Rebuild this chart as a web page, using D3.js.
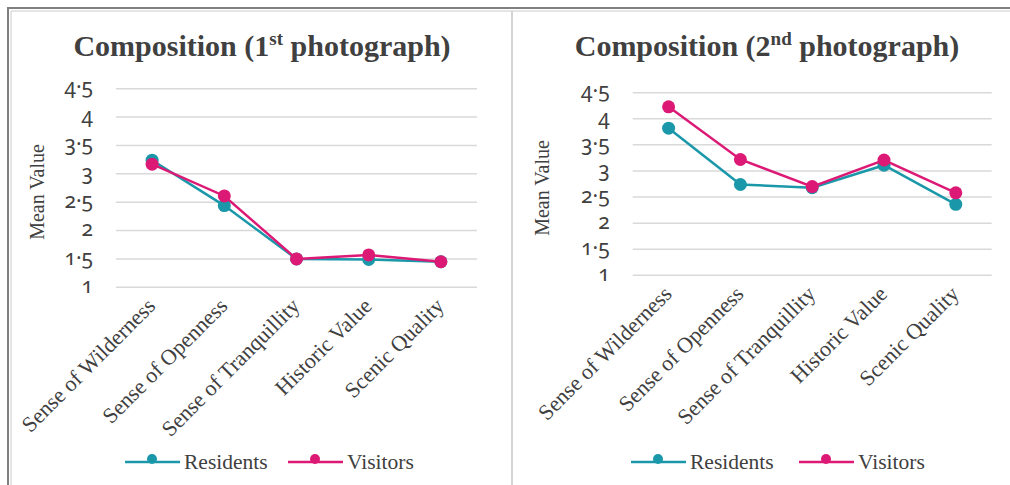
<!DOCTYPE html>
<html>
<head>
<meta charset="utf-8">
<script src="https://cdn.jsdelivr.net/npm/d3@7"></script>
<style>
  html, body { margin: 0; padding: 0; background: #ffffff; }
  svg { display: block; }
  .tick-num { font-family: "Noto Sans", sans-serif; font-feature-settings: "onum" 1; font-variant-numeric: oldstyle-nums; }
</style>
</head>
<body>
<svg id="chart" width="1010" height="485"></svg>
<script>
// Category labels shared by both panels
const categories = ["Sense of Wilderness", "Sense of Openness", "Sense of Tranquillity", "Historic Value", "Scenic Quality"];

// Mean ratings, first photograph
const residents1 = [3.24, 2.44, 1.50, 1.49, 1.45];
const visitors1  = [3.17, 2.61, 1.50, 1.57, 1.45];

// Mean ratings, second photograph
const residents2 = [3.82, 2.74, 2.68, 3.11, 2.36];
const visitors2  = [4.23, 3.22, 2.70, 3.21, 2.58];

// Y axis ticks
const yTicks = [1, 1.5, 2, 2.5, 3, 3.5, 4, 4.5];
const yTickLabels = ["1", "1.5", "2", "2.5", "3", "3.5", "4", "4.5"];

const seriesNames = ["Residents", "Visitors"];
const seriesColors = ["#1a98aa", "#dc1a76"];

const svg = d3.select("#chart");

// Panel frame
svg.append("rect").attr("x", 0).attr("y", 0).attr("width", 1010).attr("height", 485).attr("fill", "#ffffff");
svg.append("line").attr("x1", 7).attr("x2", 1010).attr("y1", 8).attr("y2", 8).attr("stroke", "#7f7f7f").attr("stroke-width", 2);
svg.append("line").attr("x1", 8).attr("x2", 8).attr("y1", 7).attr("y2", 485).attr("stroke", "#7f7f7f").attr("stroke-width", 2);
svg.append("line").attr("x1", 11).attr("x2", 1010).attr("y1", 11).attr("y2", 11).attr("stroke", "#dcdcdc").attr("stroke-width", 1.5);
svg.append("line").attr("x1", 11).attr("x2", 11).attr("y1", 11).attr("y2", 485).attr("stroke", "#dcdcdc").attr("stroke-width", 1.5);
svg.append("line").attr("x1", 512).attr("x2", 512).attr("y1", 11).attr("y2", 485).attr("stroke", "#d4d4d4").attr("stroke-width", 2);

function drawPanel(cfg) {
  const g = svg.append("g");
  const x = d3.scalePoint().domain(categories).range([cfg.left, cfg.right]).padding(0.5);
  const y = d3.scaleLinear().domain([1, 4.5]).range([cfg.bottom, cfg.top]);

  // Title with superscript ordinal
  const title = g.append("text")
    .attr("x", cfg.titleX).attr("y", 56)
    .attr("text-anchor", "middle")
    .attr("font-family", "Liberation Serif, serif")
    .attr("font-weight", "bold")
    .attr("font-size", 30)
    .attr("fill", "#404040");
  title.append("tspan").text("Composition (" + cfg.num);
  title.append("tspan").attr("dy", -11).attr("font-size", 19).text(cfg.sup);
  title.append("tspan").attr("dy", 11).text(" photograph)");

  // Horizontal gridlines
  g.append("g").selectAll("line").data(yTicks).join("line")
    .attr("x1", cfg.left).attr("x2", cfg.right)
    .attr("y1", d => y(d)).attr("y2", d => y(d))
    .attr("stroke", "#d9d9d9").attr("stroke-width", 1.5);

  // Y axis labels
  const yAxis = d3.axisLeft(y).tickValues(yTicks).tickSize(0).tickPadding(23)
    .tickFormat((d, i) => yTickLabels[i].replace(".", "\u00b7"));
  const ya = g.append("g").attr("transform", `translate(${cfg.left},0)`).call(yAxis);
  ya.select(".domain").remove();
  ya.selectAll("text").attr("class", "tick-num").attr("font-size", 21).attr("fill", "#404040").attr("dy", "0.25em");

  // Y axis title
  g.append("text")
    .attr("transform", `translate(${cfg.yTitleX},${(cfg.top + cfg.bottom) / 2 + 4}) rotate(-90)`)
    .attr("text-anchor", "middle")
    .attr("font-family", "Liberation Serif, serif")
    .attr("font-size", 20)
    .attr("fill", "#404040")
    .text("Mean Value");

  // X axis category labels, rotated
  const xAxis = d3.axisBottom(x).tickSize(0).tickPadding(0);
  const xa = g.append("g").attr("transform", `translate(0,${cfg.bottom})`).call(xAxis);
  xa.select(".domain").remove();
  xa.selectAll("text")
    .attr("font-family", "Liberation Serif, serif")
    .attr("font-size", 22)
    .attr("fill", "#404040")
    .attr("text-anchor", "end")
    .attr("y", 0).attr("dy", 0)
    .attr("transform", "translate(4,20) rotate(-45)");

  // Series lines and markers
  const line = d3.line().x((d, i) => x(categories[i])).y(d => y(d));
  cfg.series.forEach((vals, si) => {
    g.append("path").datum(vals)
      .attr("d", line)
      .attr("fill", "none")
      .attr("stroke", seriesColors[si])
      .attr("stroke-width", 2.5);
    g.append("g").selectAll("circle").data(vals).join("circle")
      .attr("cx", (d, i) => x(categories[i]))
      .attr("cy", d => y(d))
      .attr("r", 6.5)
      .attr("fill", seriesColors[si]);
  });

  // Legend
  const legendY = 462;
  cfg.legendX.forEach((lx, si) => {
    const lg = g.append("g");
    lg.append("line").attr("x1", lx).attr("x2", lx + 55).attr("y1", legendY).attr("y2", legendY)
      .attr("stroke", seriesColors[si]).attr("stroke-width", 2.5);
    lg.append("circle").attr("cx", lx + 27).attr("cy", legendY - 3).attr("r", 5).attr("fill", seriesColors[si]);
    lg.append("text").attr("x", lx + 59).attr("y", legendY + 7)
      .attr("font-family", "Liberation Serif, serif")
      .attr("font-size", 21.5)
      .attr("fill", "#404040")
      .text(seriesNames[si]);
  });
}

drawPanel({
  left: 116, right: 477, top: 88.7, bottom: 287.3,
  titleX: 262, num: "1", sup: "st", yTitleX: 44,
  series: [residents1, visitors1],
  legendX: [125, 288]
});

drawPanel({
  left: 632.7, right: 991.7, top: 92.7, bottom: 275.3,
  titleX: 767, num: "2", sup: "nd", yTitleX: 549,
  series: [residents2, visitors2],
  legendX: [631, 799]
});
</script>
</body>
</html>
